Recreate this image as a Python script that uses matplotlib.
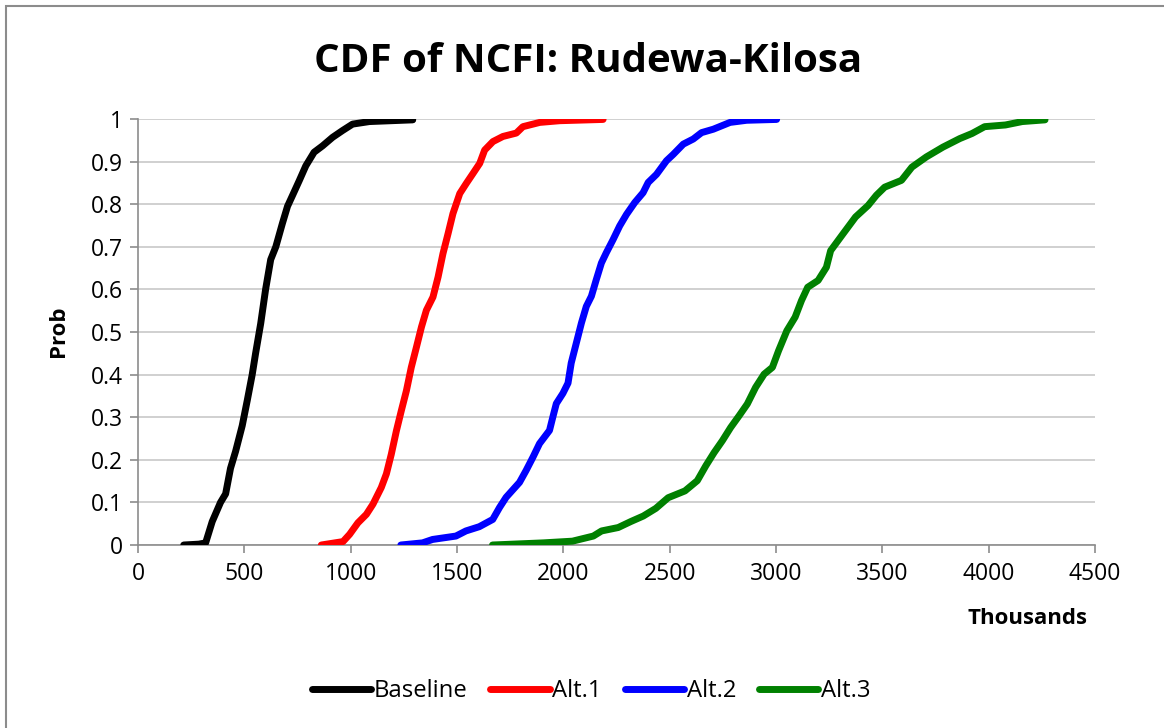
import matplotlib
matplotlib.use("Agg")
import matplotlib.pyplot as plt
from matplotlib.patches import Rectangle

plt.rcParams['font.family'] = ['Open Sans', 'DejaVu Sans']

title = "CDF of NCFI: Rudewa-Kilosa"
series_names = ["Baseline", "Alt.1", "Alt.2", "Alt.3"]
series_colors = ["#000000", "#ff0000", "#0000ff", "#008000"]

baseline_x = [215, 286, 318, 349, 388, 412, 435, 459, 490, 514, 537, 553, 577, 600, 624, 648,
              679, 703, 726, 758, 789, 828, 868, 915, 962, 1009, 1088, 1292]
baseline_p = [0.0, 0.002, 0.005, 0.055, 0.10, 0.12, 0.18, 0.22, 0.28, 0.34, 0.40, 0.45, 0.52, 0.60,
              0.67, 0.70, 0.755, 0.795, 0.82, 0.855, 0.89, 0.922, 0.937, 0.957, 0.973, 0.988, 0.994, 0.998]

alt1_x = [862, 964, 995, 1034, 1074, 1105, 1144, 1168, 1191, 1215, 1238, 1262, 1285, 1309, 1333,
          1356, 1387, 1411, 1434, 1458, 1481, 1513, 1544, 1575, 1607, 1630, 1669, 1716, 1779, 1810,
          1889, 1983, 2187]
alt1_p = [0.0, 0.008, 0.025, 0.052, 0.072, 0.096, 0.135, 0.167, 0.213, 0.268, 0.315, 0.362, 0.417,
          0.464, 0.512, 0.551, 0.582, 0.629, 0.684, 0.731, 0.778, 0.825, 0.849, 0.872, 0.896, 0.927,
          0.947, 0.959, 0.967, 0.982, 0.992, 0.996, 0.999]

alt2_x = [1236, 1338, 1385, 1495, 1542, 1605, 1668, 1700, 1731, 1794, 1825, 1857, 1888, 1935, 1951,
          1967, 1998, 2022, 2037, 2061, 2085, 2108, 2132, 2155, 2179, 2202, 2234, 2265, 2297, 2336,
          2375, 2399, 2438, 2485, 2517, 2564, 2611, 2650, 2705, 2784, 2862, 3003]
alt2_p = [0.0, 0.005, 0.013, 0.021, 0.033, 0.043, 0.06, 0.088, 0.112, 0.147, 0.175, 0.206, 0.238,
          0.269, 0.301, 0.332, 0.356, 0.380, 0.427, 0.474, 0.521, 0.560, 0.584, 0.623, 0.662, 0.686,
          0.717, 0.749, 0.776, 0.804, 0.827, 0.851, 0.870, 0.902, 0.917, 0.941, 0.953, 0.968, 0.976,
          0.992, 0.997, 0.999]

alt3_x = [1667, 1906, 2043, 2141, 2180, 2258, 2317, 2376, 2435, 2493, 2572, 2630, 2670, 2709, 2748,
          2787, 2826, 2865, 2904, 2944, 2983, 3012, 3051, 3090, 3120, 3149, 3198, 3237, 3257, 3316,
          3374, 3433, 3472, 3511, 3590, 3639, 3707, 3785, 3864, 3922, 3981, 4079, 4158, 4265]
alt3_p = [0.0, 0.005, 0.009, 0.021, 0.033, 0.041, 0.055, 0.068, 0.086, 0.111, 0.127, 0.151, 0.186,
          0.217, 0.245, 0.276, 0.303, 0.331, 0.370, 0.401, 0.417, 0.456, 0.503, 0.535, 0.574, 0.605,
          0.621, 0.652, 0.691, 0.731, 0.770, 0.797, 0.821, 0.840, 0.856, 0.887, 0.911, 0.934, 0.954,
          0.966, 0.982, 0.986, 0.994, 0.998]

x_ticks = [0, 500, 1000, 1500, 2000, 2500, 3000, 3500, 4000, 4500]
y_ticks = [0, 0.1, 0.2, 0.3, 0.4, 0.5, 0.6, 0.7, 0.8, 0.9, 1]
y_tick_labels = ["0", "0.1", "0.2", "0.3", "0.4", "0.5", "0.6", "0.7", "0.8", "0.9", "1"]

W, H = 1164, 728
fig = plt.figure(figsize=(W / 100, H / 100), dpi=100)
fig.patch.set_facecolor("white")
ax = fig.add_axes([138 / W, 1 - 545 / H, (1095 - 138) / W, (545 - 119) / H])

# outer chart border
fig.patches.append(Rectangle((6 / W, -0.05), 1.2, 1 - 6 / H + 0.05, transform=fig.transFigure,
                             fill=False, edgecolor="#8c8c8c", linewidth=1.5))

data = [(baseline_x, baseline_p), (alt1_x, alt1_p), (alt2_x, alt2_p), (alt3_x, alt3_p)]
for (xs, ps), name, col in zip(data, series_names, series_colors):
    ax.plot(xs, ps, color=col, lw=5, solid_capstyle="round", solid_joinstyle="round",
            label=name, zorder=3)

ax.set_xlim(0, 4500)
ax.set_ylim(0, 1)
ax.set_xticks(x_ticks)
ax.set_xticklabels([str(t) for t in x_ticks])
ax.set_yticks(y_ticks)
ax.set_yticklabels(y_tick_labels)
ax.grid(axis="y", color="#c8c8c8", lw=1.2)
ax.set_axisbelow(True)
for s in ["top", "right"]:
    ax.spines[s].set_visible(False)
for s in ["left", "bottom"]:
    ax.spines[s].set_color("#8c8c8c")
    ax.spines[s].set_linewidth(1.2)
ax.tick_params(axis="both", colors="#8c8c8c", length=6, width=1.2, labelsize=16.5,
               labelcolor="black", direction="out")
ax.tick_params(axis="x", pad=6)
ax.tick_params(axis="y", pad=5)

fig.text(588 / W, 1 - 62 / H, title, ha="center", va="center", fontsize=29, fontweight="bold")
fig.text(59 / W, 1 - 331 / H, "Prob", rotation=90, ha="center", va="center", fontsize=16,
         fontweight="bold")
fig.text(1027 / W, 1 - 619 / H, "Thousands", ha="center", va="center", fontsize=16,
         fontweight="bold")

leg = fig.legend(loc="center", bbox_to_anchor=(591 / W, 1 - 691 / H), ncol=4, frameon=False,
                 fontsize=17.2, handlelength=2.5, handletextpad=0.1, columnspacing=0.95)

fig.savefig("out.png", dpi=100)
